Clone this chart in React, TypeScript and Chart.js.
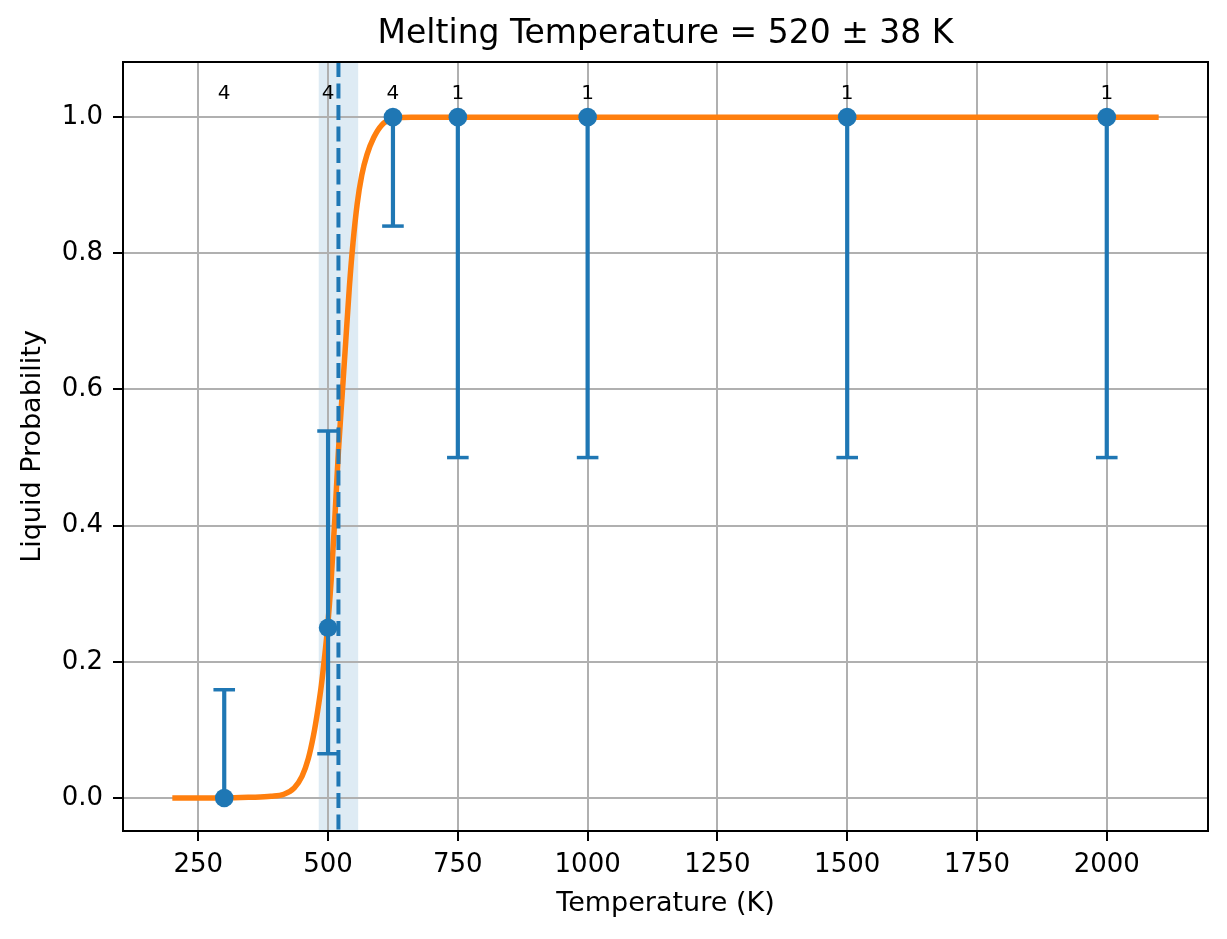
import { useEffect, useRef } from 'react'
import { Chart, registerables } from 'chart.js'

Chart.register(...registerables)

// measured bins (temperature, liquid fraction, error range, run count)
const binTemps = [300, 500, 625, 750, 1000, 1500, 2000]
const binFraction = [0, 0.25, 1, 1, 1, 1, 1]
const binLower = [0, 0.065, 0.84, 0.5, 0.5, 0.5, 0.5]
const binUpper = [0.159, 0.539, 1, 1, 1, 1, 1]
const binCounts = [4, 4, 4, 1, 1, 1, 1]

// fitted curve
const fitTemps = [200, 300, 350, 390, 415, 435, 450, 462, 472, 480, 487, 493, 499, 506, 513, 520, 527, 534, 541, 548, 556, 565, 575, 588, 603, 625, 660, 2100]
const fitProb = [0, 0, 0.001, 0.0025, 0.0055, 0.015, 0.032, 0.058, 0.092, 0.128, 0.165, 0.205, 0.25, 0.32, 0.41, 0.51, 0.59, 0.67, 0.75, 0.815, 0.872, 0.915, 0.945, 0.97, 0.988, 0.998, 1, 1]

const meltT = 520
const meltErr = 38

const xTicks = [250, 500, 750, 1000, 1250, 1500, 1750, 2000]
const yTicks = [0, 0.2, 0.4, 0.6, 0.8, 1.0]

const BLUE = '#1f77b4'
const ORANGE = '#ff7f0e'
const FONT = "'DejaVu Sans', sans-serif"

const plotExtras = {
  id: 'plotExtras',
  beforeDraw(chart: Chart) {
    const { ctx, chartArea, scales } = chart
    const x = scales.x
    ctx.save()
    ctx.fillStyle = 'rgba(31,119,180,0.15)'
    const l = x.getPixelForValue(meltT - meltErr)
    const r = x.getPixelForValue(meltT + meltErr)
    ctx.fillRect(l, chartArea.top, r - l, chartArea.bottom - chartArea.top)
    ctx.restore()
  },
  beforeDatasetDraw(chart: Chart, args: any) {
    if (args.index !== 0) return
    const { ctx, scales } = chart
    const x = scales.x
    const y = scales.y
    ctx.save()
    ctx.strokeStyle = BLUE
    binTemps.forEach((t, i) => {
      const px = x.getPixelForValue(t)
      const lo = y.getPixelForValue(binLower[i])
      const hi = y.getPixelForValue(binUpper[i])
      ctx.lineWidth = 4.2
      ctx.beginPath()
      ctx.moveTo(px, lo)
      ctx.lineTo(px, hi)
      ctx.stroke()
      ctx.lineWidth = 3.5
      if (binLower[i] !== binFraction[i]) {
        ctx.beginPath()
        ctx.moveTo(px - 10.8, lo)
        ctx.lineTo(px + 10.8, lo)
        ctx.stroke()
      }
      if (binUpper[i] !== binFraction[i]) {
        ctx.beginPath()
        ctx.moveTo(px - 10.8, hi)
        ctx.lineTo(px + 10.8, hi)
        ctx.stroke()
      }
    })
    ctx.restore()
  },
  afterDatasetsDraw(chart: Chart) {
    const { ctx, chartArea, scales } = chart
    const x = scales.x
    const y = scales.y
    ctx.save()
    // melting temperature marker
    const mx = x.getPixelForValue(meltT)
    ctx.strokeStyle = BLUE
    ctx.lineWidth = 4
    ctx.setLineDash([15, 6.5])
    ctx.beginPath()
    ctx.moveTo(mx, chartArea.top)
    ctx.lineTo(mx, chartArea.bottom)
    ctx.stroke()
    ctx.setLineDash([])
    // run counts
    ctx.fillStyle = '#000'
    ctx.font = `20px ${FONT}`
    ctx.textAlign = 'center'
    ctx.textBaseline = 'middle'
    binTemps.forEach((t, i) => {
      ctx.fillText(String(binCounts[i]), x.getPixelForValue(t), y.getPixelForValue(1.035))
    })
    ctx.restore()
  },
  afterDraw(chart: Chart) {
    const { ctx, chartArea } = chart
    ctx.save()
    ctx.strokeStyle = '#000'
    ctx.lineWidth = 2
    ctx.strokeRect(chartArea.left, chartArea.top, chartArea.right - chartArea.left, chartArea.bottom - chartArea.top)
    ctx.restore()
  },
}

export default function App() {
  const canvasRef = useRef<HTMLCanvasElement>(null)

  useEffect(() => {
    document.body.style.margin = '0'
    if (!canvasRef.current) return

    const chart = new Chart(canvasRef.current, {
      type: 'scatter',
      data: {
        datasets: [
          {
            label: 'bins',
            data: binTemps.map((t, i) => ({ x: t, y: binFraction[i] })),
            backgroundColor: BLUE,
            borderWidth: 0,
            pointRadius: 9.3,
            showLine: false,
            order: 1,
          },
          {
            label: 'fit',
            data: fitTemps.map((t, i) => ({ x: t, y: fitProb[i] })),
            borderColor: ORANGE,
            borderWidth: 5.5,
            pointRadius: 0,
            showLine: true,
            cubicInterpolationMode: 'monotone',
            order: 2,
          },
        ],
      },
      options: {
        animation: false,
        responsive: false,
        layout: { padding: { left: 0, right: 19, top: 0, bottom: 0 } },
        plugins: {
          legend: { display: false },
          tooltip: { enabled: false },
          title: {
            display: true,
            text: `Melting Temperature = ${meltT} ± ${meltErr} K`,
            color: '#000',
            fullSize: false,
            font: { family: FONT, size: 33, weight: 'normal' },
            padding: { top: 15, bottom: 7.4 },
          },
        },
        scales: {
          x: {
            type: 'linear',
            min: 105,
            max: 2195,
            afterBuildTicks: (axis: any) => {
              axis.ticks = xTicks.map(v => ({ value: v }))
            },
            afterFit: (axis: any) => {
              axis.height = 108
            },
            ticks: {
              color: '#000',
              font: { family: FONT, size: 26 },
              padding: 9,
              maxRotation: 0,
              autoSkip: false,
              callback: (v: any) => String(v),
            },
            grid: { color: '#b0b0b0', lineWidth: 2, tickColor: '#000', tickLength: 10, tickWidth: 2 },
            border: { display: false },
            title: {
              display: true,
              text: 'Temperature (K)',
              color: '#000',
              font: { family: FONT, size: 27 },
              padding: { top: 0, bottom: 18.5 },
            },
          },
          y: {
            type: 'linear',
            min: -0.0485,
            max: 1.081,
            afterBuildTicks: (axis: any) => {
              axis.ticks = yTicks.map(v => ({ value: v }))
            },
            afterFit: (axis: any) => {
              axis.width = 123
            },
            ticks: {
              color: '#000',
              font: { family: FONT, size: 26 },
              padding: 10,
              callback: (v: any) => Number(v).toFixed(1),
            },
            grid: { color: '#b0b0b0', lineWidth: 2, tickColor: '#000', tickLength: 10, tickWidth: 2 },
            border: { display: false },
            title: {
              display: true,
              text: 'Liquid Probability',
              color: '#000',
              font: { family: FONT, size: 27 },
              padding: { top: 17, bottom: 0 },
            },
          },
        },
      },
      plugins: [plotExtras],
    })

    return () => {
      chart.destroy()
    }
  }, [])

  return (
    <div style={{ width: 1227, height: 939, background: '#fff' }}>
      <canvas ref={canvasRef} width={1227} height={939} />
    </div>
  )
}
